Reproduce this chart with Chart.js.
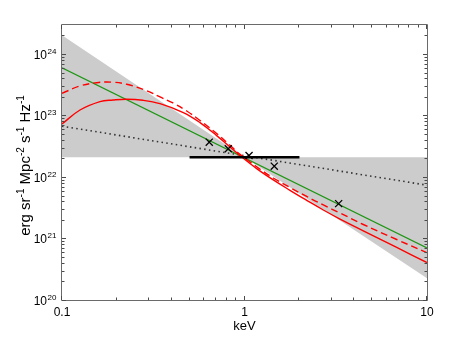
<!DOCTYPE html>
<html><head><meta charset="utf-8">
<script src="https://cdn.jsdelivr.net/npm/chart.js@4.4.1/dist/chart.umd.min.js"></script>
<style>html,body{margin:0;padding:0;background:#fff}#wrap{width:471px;height:339px}</style>
</head><body><div id="wrap"><canvas id="c" width="471" height="339"></canvas></div>
<script>
// ---- data ----
const bowtieX     = [0.1, 1.0, 10];
const bowtieUpper = [2.02e24, 2.1e22, 2.1e22];
const bowtieLower = [2.1e22, 2.1e22, 2.26e20];

const greenX = [0.1, 10];
const greenY = [5.94e23, 7.03e20];

const dottedX = [0.1, 10];
const dottedY = [6.7e22, 7.36e21];

const redSolidX = [0.1, 0.1255, 0.1615, 0.1903, 0.2262, 0.2779, 0.3444, 0.4621, 0.5704, 0.7040, 0.8328, 0.9447, 1.166, 1.438, 1.775, 2.192, 2.703, 3.337, 4.477, 6.823, 10];
const redSolidY = [7.27e22, 1.229e23, 1.683e23, 1.786e23, 1.841e23, 1.767e23, 1.556e23, 1.115e23, 7.67e22, 4.71e22, 3.076e22, 2.228e22, 1.37e22, 8.97e21, 6.08e21, 4.18e21, 2.906e21, 2.068e21, 1.334e21, 7.14e20, 4.07e20];

const redDashedX = [0.1, 0.1255, 0.1549, 0.1903, 0.2262, 0.2911, 0.3444, 0.4056, 0.4824, 0.5704, 0.7040, 0.8328, 0.9447, 1.166, 1.438, 1.775, 2.192, 2.703, 3.337, 4.477, 6.823, 10];
const redDashedY = [2.296e23, 3.018e23, 3.415e23, 3.479e23, 3.216e23, 2.532e23, 1.999e23, 1.597e23, 1.183e23, 8.29e22, 5.10e22, 3.277e22, 2.339e22, 1.465e22, 9.63e21, 6.75e21, 4.82e21, 3.505e21, 2.598e21, 1.689e21, 9.63e20, 5.88e20];

const barX = [0.5, 2];
const barY = [2.1e22, 2.1e22];

const markerX = [0.641, 0.815, 1.059, 1.456, 3.28];
const markerY = [3.68e22, 2.88e22, 2.24e22, 1.5e22, 3.69e21];

const xTickValues = [0.1, 1, 10];
const xTickLabels = ['0.1', '1', '10'];
const yTickExponents = [20, 21, 22, 23, 24];
const xAxisTitle = 'keV';
const yAxisTitleParts = [
  {t: 'erg sr', sup: false}, {t: '-1', sup: true},
  {t: ' Mpc', sup: false}, {t: '-2', sup: true},
  {t: ' s', sup: false}, {t: '-1', sup: true},
  {t: ' Hz', sup: false}, {t: '-1', sup: true}
];

const X_MIN = 0.1, X_MAX = 10, Y_MIN = 1e20, Y_MAX = 2.96e24;
const FONT = '"Liberation Sans", Arial, Helvetica, sans-serif';

const toPts = (xs, ys) => xs.map((x, i) => ({x: x, y: ys[i]}));

function logTicks(min, max) {
  const out = [];
  for (let d = Math.floor(Math.log10(min)); d <= Math.ceil(Math.log10(max)); d++) {
    for (let m = 1; m <= 9; m++) {
      const v = m * Math.pow(10, d);
      if (v >= min * 0.9999 && v <= max * 1.0001) out.push({v: v, major: m === 1});
    }
  }
  return out;
}

const axesPlugin = {
  id: 'axesDeco',
  afterDraw(chart) {
    const {ctx, chartArea: a, scales} = chart;
    const xs = scales.x, ys = scales.y;
    ctx.save();
    // frame
    ctx.strokeStyle = '#6a6a6a';
    ctx.lineWidth = 1;
    ctx.beginPath();
    ctx.rect(a.left - 0.5, a.top - 0.5, a.right - a.left + 1, a.bottom - a.top + 1);
    ctx.stroke();
    // ticks (inward, all four sides)
    ctx.strokeStyle = '#4a4a4a';
    ctx.beginPath();
    logTicks(X_MIN, X_MAX).forEach(t => {
      const p = Math.round(xs.getPixelForValue(t.v)) - 0.5;
      const L = t.major ? 4 : 2.5;
      ctx.moveTo(p, a.bottom); ctx.lineTo(p, a.bottom - L);
      ctx.moveTo(p, a.top); ctx.lineTo(p, a.top + L);
    });
    logTicks(Y_MIN, Y_MAX).forEach(t => {
      const p = Math.round(ys.getPixelForValue(t.v)) + 0.5;
      const L = t.major ? 4 : 2.5;
      ctx.moveTo(a.left, p); ctx.lineTo(a.left + L, p);
      ctx.moveTo(a.right, p); ctx.lineTo(a.right - L, p);
    });
    ctx.stroke();
    // x tick labels
    ctx.fillStyle = '#000';
    ctx.font = '12px ' + FONT;
    ctx.textAlign = 'center';
    ctx.textBaseline = 'alphabetic';
    xTickValues.forEach((v, i) => {
      ctx.fillText(xTickLabels[i], xs.getPixelForValue(v), a.bottom + 16);
    });
    // y tick labels 10^n
    yTickExponents.forEach(e => {
      const p = ys.getPixelForValue(Math.pow(10, e));
      ctx.font = '12px ' + FONT;
      ctx.textAlign = 'right';
      ctx.fillText('10', a.left - 15, p + 5);
      ctx.font = '8px ' + FONT;
      ctx.textAlign = 'left';
      ctx.fillText(String(e), a.left - 14.5, p);
    });
    // x title
    ctx.font = '13px ' + FONT;
    ctx.textAlign = 'center';
    ctx.fillText(xAxisTitle, (a.left + a.right) / 2, a.bottom + 30);
    // y title (rotated, with superscripts)
    const mainF = '15px ' + FONT, supF = '10px ' + FONT;
    let total = 0;
    yAxisTitleParts.forEach(pt => { ctx.font = pt.sup ? supF : mainF; total += ctx.measureText(pt.t).width; });
    ctx.translate(30, (a.top + a.bottom) / 2 + 3);
    ctx.rotate(-Math.PI / 2);
    ctx.textAlign = 'left';
    let cx = -total / 2;
    yAxisTitleParts.forEach(pt => {
      ctx.font = pt.sup ? supF : mainF;
      ctx.fillText(pt.t, cx, pt.sup ? -6.5 : 0);
      cx += ctx.measureText(pt.t).width;
    });
    ctx.restore();
  }
};

new Chart(document.getElementById('c'), {
  type: 'scatter',
  data: {
    datasets: [
      {label: 'markers', data: toPts(markerX, markerY), showLine: false, pointStyle: 'crossRot',
       pointRadius: 5, pointBorderWidth: 1.3, borderColor: '#000', backgroundColor: '#000', order: 0},
      {label: 'bar', data: toPts(barX, barY), showLine: true, borderColor: '#000', borderWidth: 2.5,
       pointRadius: 0, order: 1},
      {label: 'red dashed', data: toPts(redDashedX, redDashedY), showLine: true, borderColor: '#ff0000',
       borderWidth: 1.4, borderDash: [7, 4], pointRadius: 0, tension: 0.4, order: 2},
      {label: 'red solid', data: toPts(redSolidX, redSolidY), showLine: true, borderColor: '#ff0000',
       borderWidth: 1.4, pointRadius: 0, tension: 0.4, order: 3},
      {label: 'green', data: toPts(greenX, greenY), showLine: true, borderColor: 'rgb(30,150,20)',
       borderWidth: 1.2, pointRadius: 0, order: 4},
      {label: 'dotted', data: toPts(dottedX, dottedY), showLine: true, borderColor: '#333',
       borderWidth: 1.6, borderDash: [1.5, 3.3], pointRadius: 0, order: 5},
      {label: 'bowtie lower', data: toPts(bowtieX, bowtieLower), showLine: true, borderWidth: 0,
       borderColor: 'rgba(0,0,0,0)', pointRadius: 0, fill: false, order: 10},
      {label: 'bowtie upper', data: toPts(bowtieX, bowtieUpper), showLine: true, borderWidth: 0,
       borderColor: 'rgba(0,0,0,0)', backgroundColor: 'rgb(204,204,204)', pointRadius: 0, fill: '-1', order: 9}
    ]
  },
  options: {
    responsive: false,
    animation: false,
    events: [],
    layout: {padding: {left: 62, right: 44, top: 25, bottom: 39}},
    scales: {
      x: {type: 'logarithmic', min: X_MIN, max: X_MAX, display: false},
      y: {type: 'logarithmic', min: Y_MIN, max: Y_MAX, display: false}
    },
    plugins: {legend: {display: false}, tooltip: {enabled: false}, filler: {propagate: false}}
  },
  plugins: [axesPlugin]
});
</script>
</body></html>
